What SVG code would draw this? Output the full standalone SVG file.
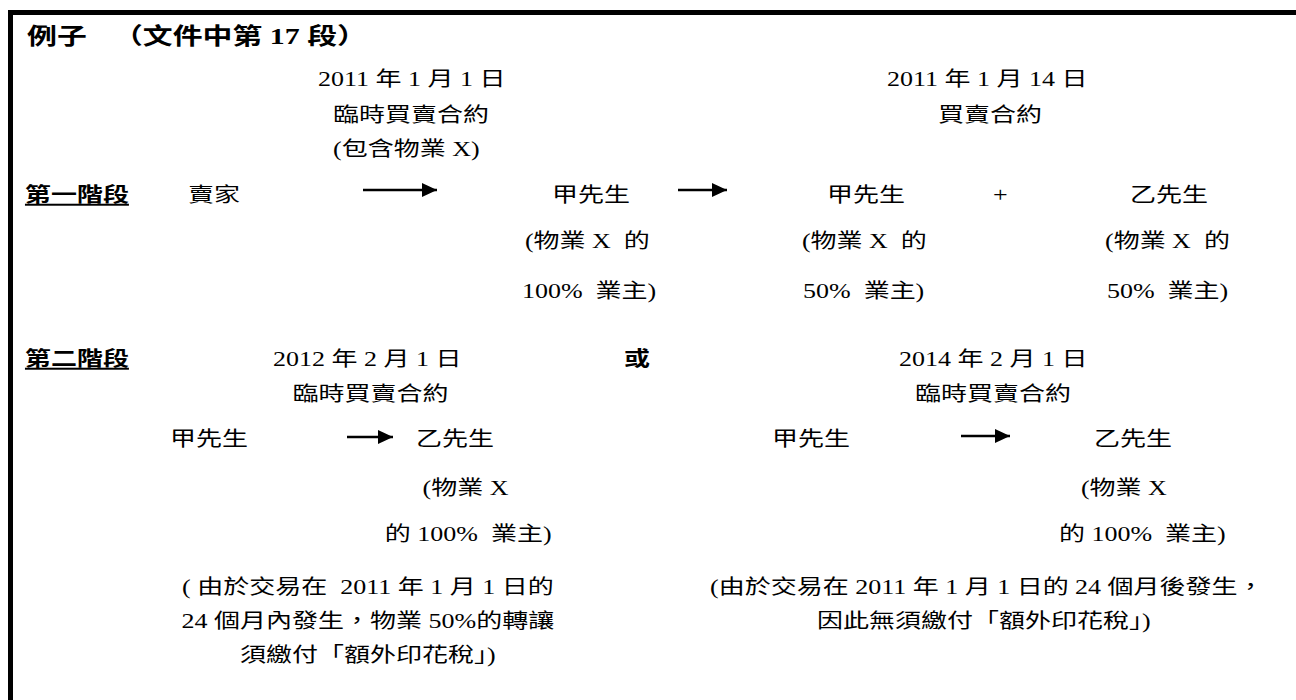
<svg xmlns="http://www.w3.org/2000/svg" width="1296" height="700" viewBox="0 0 1296 700" xml:space="preserve">
<style>
text { white-space: pre; }
.t { font-family: "Liberation Serif", "Noto Sans CJK TC", serif; font-size: 20px; fill: #000; }
.h { font-family: "Noto Sans CJK TC", sans-serif; font-size: 20px; font-weight: bold; fill: #000; }
.u { text-decoration: underline; }
.ttl { font-family: "Liberation Serif", "Noto Sans CJK TC", sans-serif; font-size: 23px; font-weight: bold; fill: #000; }
.c { stroke: #000; stroke-width: 2.5; fill: none; marker-end: url(#ah); }
.m { text-anchor: middle; }
</style>
<defs>
<marker id="ah" markerUnits="userSpaceOnUse" markerWidth="16" markerHeight="16" refX="15" refY="8" orient="auto">
<path d="M0,1 L15,8 L0,15 Z" fill="#000"/>
</marker>
</defs>
<rect width="1296" height="700" fill="#fff"/>
<g id="border" fill="#000">
<rect x="8" y="10" width="1288" height="5"/>
<rect x="8" y="10" width="5" height="690"/>
</g>
<g id="connectors">
<line class="c" x1="363" y1="190" x2="437" y2="190"/>
<line class="c" x1="678" y1="190" x2="727" y2="190"/>
<line class="c" x1="347" y1="437" x2="393" y2="437"/>
<line class="c" x1="961" y1="436" x2="1010" y2="436"/>
</g>
<g transform="scale(1.3 1)">
<g id="title">
<text class="ttl" x="20.8" y="44">例子</text>
<text class="ttl" x="86.9" y="44">（文件中第 17 段）</text>
</g>
<g id="contract1">
<text class="t" x="244.6" y="86">2011 年 1 月 1 日</text>
<text class="t" x="256.2" y="122">臨時買賣合約</text>
<text class="t" x="256.2" y="156">(包含物業 X)</text>
</g>
<g id="contract2">
<text class="t" x="682.3" y="86">2011 年 1 月 14 日</text>
<text class="t" x="721.5" y="122">買賣合約</text>
</g>
<g id="stage1">
<text class="h u" x="19.2" y="202">第一階段</text>
</g>
<g id="seller">
<text class="t" x="144.6" y="202">賣家</text>
</g>
<g id="mrA1">
<text class="t" x="424.6" y="202">甲先生</text>
<text class="t" x="403.8" y="248">(物業 X  的</text>
<text class="t" x="401.5" y="298">100%  業主)</text>
</g>
<g id="mrA2">
<text class="t" x="636.2" y="202">甲先生</text>
<text class="t" x="616.9" y="248">(物業 X  的</text>
<text class="t" x="617.7" y="298">50%  業主)</text>
</g>
<g id="plus">
<text class="t" x="763.8" y="202">+</text>
</g>
<g id="mrB1">
<text class="t" x="869.2" y="202">乙先生</text>
<text class="t" x="850" y="248">(物業 X  的</text>
<text class="t" x="851.5" y="298">50%  業主)</text>
</g>
<g id="stage2">
<text class="h u" x="19.2" y="366">第二階段</text>
</g>
<g id="or">
<text class="h" x="480" y="366">或</text>
</g>
<g id="contract3">
<text class="t" x="210" y="366">2012 年 2 月 1 日</text>
<text class="t" x="225" y="401">臨時買賣合約</text>
</g>
<g id="mrA3">
<text class="t" x="130.8" y="446">甲先生</text>
</g>
<g id="mrB2">
<text class="t" x="320" y="446">乙先生</text>
<text class="t" x="325" y="495">(物業 X</text>
<text class="t" x="296" y="541">的 100%  業主)</text>
</g>
<g id="contract4">
<text class="t" x="691.5" y="366">2014 年 2 月 1 日</text>
<text class="t" x="703.8" y="401">臨時買賣合約</text>
</g>
<g id="mrA4">
<text class="t" x="593.8" y="446">甲先生</text>
</g>
<g id="mrB3">
<text class="t" x="841.5" y="446">乙先生</text>
<text class="t" x="831.5" y="495">(物業 X</text>
<text class="t" x="814.6" y="541">的 100%  業主)</text>
</g>
<g id="note1">
<text class="t m" x="283" y="594">( 由於交易在  2011 年 1 月 1 日的</text>
<text class="t m" x="283" y="628">24 個月內發生，物業 50%的轉讓</text>
<text class="t m" x="283" y="662">須繳付「額外印花稅」)</text>
</g>
<g id="note2">
<text class="t" x="546.2" y="594">(由於交易在 2011 年 1 月 1 日的 24 個月後發生，</text>
<text class="t" x="628.5" y="628">因此無須繳付「額外印花稅」)</text>
</g>
</g>
</svg>
